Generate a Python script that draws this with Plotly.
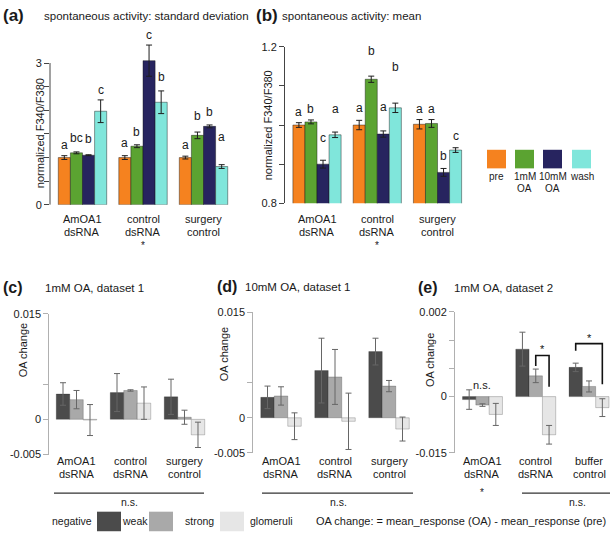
import plotly.graph_objects as go

W, H = 610, 548
FONT = "Liberation Sans, Arial, Helvetica, sans-serif"

# ---------------- data ----------------
groups_ab = ["AmOA1 dsRNA", "control dsRNA", "surgery control"]
conditions = ["pre", "1mM OA", "10mM OA", "wash"]

# (a) spontaneous activity: standard deviation
sd_pre = [1.00, 1.00, 1.00]
sd_pre_err = [0.04, 0.04, 0.03]
sd_1mM = [1.10, 1.24, 1.47]
sd_1mM_err = [0.02, 0.03, 0.07]
sd_10mM = [1.05, 3.05, 1.66]
sd_10mM_err = [0.01, 0.33, 0.03]
sd_wash = [1.98, 2.17, 0.81]
sd_wash_err = [0.24, 0.24, 0.04]
sd_letters = [["a", "bc", "b", "c"], ["a", "b", "c", "b"], ["a", "b", "b", "a"]]

# (b) spontaneous activity: mean
mn_pre = [1.000, 1.000, 1.002]
mn_pre_err = [0.006, 0.012, 0.012]
mn_1mM = [1.008, 1.117, 1.004]
mn_1mM_err = [0.005, 0.008, 0.010]
mn_10mM = [0.900, 0.977, 0.879]
mn_10mM_err = [0.010, 0.008, 0.010]
mn_wash = [0.975, 1.044, 0.936]
mn_wash_err = [0.007, 0.012, 0.006]
mn_letters = [["a", "b", "c", "a"], ["a", "b", "a", "b"], ["a", "a", "b", "c"]]

series_names = ["negative", "weak", "strong"]

# (c) 1mM OA, dataset 1
groups_c = ["AmOA1 dsRNA", "control dsRNA", "surgery control"]
c_neg = [0.0036, 0.0038, 0.0032]
c_neg_err = [0.0016, 0.0027, 0.0025]
c_weak = [0.0028, 0.0041, 0.0003]
c_weak_err = [0.0013, 0.0001, 0.0010]
c_strong = [-0.0001, 0.0023, -0.0022]
c_strong_err = [0.0022, 0.0023, 0.0018]

# (d) 10mM OA, dataset 1
groups_d = ["AmOA1 dsRNA", "control dsRNA", "surgery control"]
d_neg = [0.0029, 0.0067, 0.0094]
d_neg_err = [0.0016, 0.0046, 0.0019]
d_weak = [0.0031, 0.0058, 0.0045]
d_weak_err = [0.0013, 0.0039, 0.0008]
d_strong = [-0.0012, -0.0005, -0.0016]
d_strong_err = [0.0019, 0.0040, 0.0017]

# (e) 1mM OA, dataset 2
groups_e = ["AmOA1 dsRNA", "control dsRNA", "buffer control"]
e_neg = [-0.00007, 0.00112, 0.00069]
e_neg_err = [0.00023, 0.00040, 0.00010]
e_weak = [-0.00020, 0.00049, 0.00024]
e_weak_err = [0.00003, 0.00016, 0.00013]
e_strong = [-0.00042, -0.00090, -0.00026]
e_strong_err = [0.00026, 0.00022, 0.00021]

# ---------------- helpers ----------------
def X(p):
    return p / W


def Y(p):
    return 1 - p / H


col4 = ["#F5821F", "#5BA331", "#27245F", "#80E6DB"]
gray3 = ["#4b4b4b", "#a9a9a9", "#e6e6e6"]

fig = go.Figure()
annotations = []
shapes = []


def txt(x, y, s, size=11, xanchor="center", yanchor="middle", bold=False,
        xref="paper", yref="paper", color="#1a1a1a", angle=0):
    if xref == "paper":
        x = X(x)
    if yref == "paper":
        y = Y(y)
    annotations.append(dict(
        x=x, y=y, xref=xref, yref=yref, text=("<b>%s</b>" % s) if bold else s,
        showarrow=False, xanchor=xanchor, yanchor=yanchor, textangle=angle,
        font=dict(family=FONT, size=size, color=color)))


def add_bars(axn, groups, vals, errs, colors, width, err_color, line_color, lw):
    n = len(vals)
    for k in range(n):
        off = -width * n / 2 + k * width
        fig.add_trace(go.Bar(
            x=groups, y=vals[k], width=width, offset=off,
            marker=dict(color=colors[k], line=dict(color=line_color, width=lw)),
            error_y=dict(type="data", array=errs[k], color=err_color,
                         thickness=1, width=3),
            xaxis="x" + ("" if axn == 1 else str(axn)),
            yaxis="y" + ("" if axn == 1 else str(axn)),
            showlegend=False, hoverinfo="skip"))


add_bars(1, groups_ab, [sd_pre, sd_1mM, sd_10mM, sd_wash],
         [sd_pre_err, sd_1mM_err, sd_10mM_err, sd_wash_err], col4, 0.2,
         "#1e1e1e", "rgba(20,20,20,0.55)", 0.8)
add_bars(2, groups_ab, [mn_pre, mn_1mM, mn_10mM, mn_wash],
         [mn_pre_err, mn_1mM_err, mn_10mM_err, mn_wash_err], col4, 0.2,
         "#1e1e1e", "rgba(20,20,20,0.55)", 0.8)
add_bars(3, groups_c, [c_neg, c_weak, c_strong],
         [c_neg_err, c_weak_err, c_strong_err], gray3, 0.25,
         "#666666", "rgba(0,0,0,0.3)", 0.7)
add_bars(4, groups_d, [d_neg, d_weak, d_strong],
         [d_neg_err, d_weak_err, d_strong_err], gray3, 0.25,
         "#666666", "rgba(0,0,0,0.3)", 0.7)
add_bars(5, groups_e, [e_neg, e_weak, e_strong],
         [e_neg_err, e_weak_err, e_strong_err], gray3, 0.25,
         "#666666", "rgba(0,0,0,0.3)", 0.7)

# ---------------- axes ----------------
def xax(dom, rng):
    return dict(domain=[X(dom[0]), X(dom[1])], range=rng, type="category",
                showgrid=False, zeroline=False, showticklabels=False,
                ticks="", showline=False, fixedrange=True)


def yax(anchor, dom, rng, tv, tt, linecolor, showline=True):
    return dict(anchor=anchor, domain=[Y(dom[0]), Y(dom[1])], range=rng,
                showgrid=False, zeroline=False, tickvals=tv, ticktext=tt,
                ticks="outside", ticklen=5, tickcolor=linecolor, tickwidth=1,
                showline=showline, linecolor=linecolor, linewidth=1,
                tickfont=dict(family=FONT, size=11, color="#1a1a1a"),
                fixedrange=True)


layout_axes = dict(
    xaxis=dict(xax([50, 240], [-0.537, 2.603]), anchor="y"),
    yaxis=yax("x", [203.3, 29.3], [0, 3.6],
              [0, 0.5, 1, 1.5, 2, 2.5, 3], ["0", "", "", "", "", "", "3"],
              "#444444", showline=False),
    xaxis2=dict(xax([285, 475], [-0.531, 2.622]), anchor="y2"),
    yaxis2=yax("x2", [201.7, 41.7], [0.8, 1.2],
               [0.8, 0.9, 1.0, 1.1, 1.2], ["0.8", "", "", "", "1.2"], "#444444"),
    xaxis3=dict(xax([49.3, 215], [-0.504, 2.565]), anchor="y3"),
    yaxis3=yax("x3", [458.6, 314.6], [-0.005, 0.015],
               [-0.005, 0, 0.005, 0.015], ["-0.005", "0", "", "0.015"], "#b0b0b0"),
    xaxis4=dict(xax([253.3, 420], [-0.513, 2.574]), anchor="y4"),
    yaxis4=yax("x4", [457, 313], [-0.005, 0.015],
               [-0.005, 0, 0.005, 0.015], ["-0.005", "0", "", "0.015"], "#b0b0b0"),
    xaxis5=dict(xax([455, 610], [-0.516, 2.394]), anchor="y5"),
    yaxis5=yax("x5", [457, 312.7], [-0.00133, 0.002],
               [-0.00133, 0, 0.000667, 0.001333, 0.002],
               ["-0.015", "0", "", "", "0.002"], "#b0b0b0"),
)

# axis line of (a) only up to 3
shapes.append(dict(type="line", xref="x domain", yref="y", x0=0, x1=0, y0=0, y1=3,
                   line=dict(color="#444444", width=1)))

# ---------------- letters ----------------
# pixel lifts of the significance letters above the error-bar tops
LET_SHIFT = {
    1: [[2, 5, 7, 1], [4, 4, 1, 5], [2, 7, 4, 19]],
    2: [[2, 2, 13, 14], [3, 16, 15, 27], [2, 2, 3, 3]],
}


def letters(axn, lets, vals, errs):
    xr = "x" + ("" if axn == 1 else str(axn))
    yr = "y" + ("" if axn == 1 else str(axn))
    for g in range(3):
        for k in range(4):
            top = vals[k][g] + errs[k][g]
            annotations.append(dict(
                x=g + (k - 1.5) * 0.2, y=top, xref=xr, yref=yr, text=lets[g][k],
                showarrow=False, xanchor="center", yanchor="bottom",
                yshift=LET_SHIFT[axn][g][k],
                font=dict(family=FONT, size=12, color="#1a1a1a")))


letters(1, sd_letters, [sd_pre, sd_1mM, sd_10mM, sd_wash],
        [sd_pre_err, sd_1mM_err, sd_10mM_err, sd_wash_err])
letters(2, mn_letters, [mn_pre, mn_1mM, mn_10mM, mn_wash],
        [mn_pre_err, mn_1mM_err, mn_10mM_err, mn_wash_err])

# ---------------- titles ----------------
txt(1, 10, "(a)", size=17, xanchor="left", bold=True)
txt(42, 10, "spontaneous activity: standard deviation", size=11.5, xanchor="left")
txt(254, 10, "(b)", size=17, xanchor="left", bold=True)
txt(280, 10, "spontaneous activity: mean", size=11.5, xanchor="left")
txt(1, 288, "(c)", size=16, xanchor="left", bold=True)
txt(43, 288, "1mM OA, dataset 1", size=11.5, xanchor="left")
txt(215, 287, "(d)", size=16, xanchor="left", bold=True)
txt(243, 287, "10mM OA, dataset 1", size=11.5, xanchor="left")
txt(416, 288, "(e)", size=16, xanchor="left", bold=True)
txt(452, 288, "1mM OA, dataset 2", size=11.5, xanchor="left")

# y titles
txt(40, 130, "normalized F340/F380", size=11, angle=-90)
txt(268, 122, "normalized F340/F380", size=11, angle=-90)
txt(23, 352, "OA change", size=11, angle=-90)
txt(224, 356, "OA change", size=11, angle=-90)
txt(430, 362, "OA change", size=11, angle=-90)


def glabels(axn, groups, y1, y2):
    xr = "x" + ("" if axn == 1 else str(axn))
    for g, name in enumerate(groups):
        a, b = name.split(" ")
        txt(g, y1, a, xref=xr)
        txt(g, y2, b, xref=xr)


glabels(1, groups_ab, 218, 231)
glabels(2, groups_ab, 218, 231)
glabels(3, groups_c, 465, 478)
glabels(4, groups_d, 465, 478)
glabels(5, groups_e, 465, 478)

# stars under groups
txt(1, 245, "*", size=10, xref="x")
txt(1, 245, "*", size=10, xref="x2")
txt(0, 497, "*", size=10, xref="x5")

# n.s. lines
for x0, x1, xc in [(54, 204, 129), (262, 413, 338), (522, 610, 577)]:
    shapes.append(dict(type="line", xref="paper", yref="paper", x0=X(x0), x1=X(x1),
                       y0=Y(498), y1=Y(498), line=dict(color="#333333", width=1.3)))
    txt(xc, 507, "n.s.", size=10.5)

# (e) n.s. above AmOA1 and brackets
txt(0, 387, "n.s.", size=11, xref="x5")
for xa, xb, ytop, ya, yb, sx, sy in [
        (1.0, 1.25, 0.00097, 0.00072, 0.00023, 1.125, 0.00112),
        (1.75, 2.25, 0.00125, 0.00108, 0.00029, 2.0, 0.00139)]:
    shapes.append(dict(type="path", xref="x5", yref="y5",
                       path="M %s,%s L %s,%s L %s,%s L %s,%s" % (xa, ya, xa, ytop, xb, ytop, xb, yb),
                       line=dict(color="#111111", width=1.6)))
    annotations.append(dict(x=sx, y=sy, xref="x5", yref="y5", text="*", showarrow=False,
                            font=dict(family=FONT, size=11, color="#111111")))

# top-right legend
for i, (x0, lab) in enumerate(zip([487, 515, 543, 572], conditions)):
    shapes.append(dict(type="rect", xref="paper", yref="paper", x0=X(x0), x1=X(x0 + 19),
                       y0=Y(166), y1=Y(147), fillcolor=col4[i], line=dict(width=0)))
    parts = lab.split(" ")
    txt(x0 + 9.5, 174, parts[0], size=10)
    if len(parts) > 1:
        txt(x0 + 9.5, 187, parts[1], size=10)

# bottom legend
txt(94, 527, "negative", size=10.5, xanchor="right")
txt(135, 527, "weak", size=10.5)
txt(216, 527, "strong", size=10.5, xanchor="right")
txt(248, 527, "glomeruli", size=10.5, xanchor="left")
for i, x0 in enumerate([97, 149, 220]):
    shapes.append(dict(type="rect", xref="paper", yref="paper", x0=X(x0), x1=X(x0 + 24),
                       y0=Y(537), y1=Y(517), fillcolor=gray3[i], line=dict(width=0)))
txt(608, 527, "OA change: = mean_response (OA) - mean_response (pre)", size=11,
    xanchor="right")

fig.update_layout(
    width=W, height=H, margin=dict(l=0, r=0, t=0, b=0), autosize=False,
    paper_bgcolor="white", plot_bgcolor="white", barmode="group",
    font=dict(family=FONT, size=11, color="#1a1a1a"),
    annotations=annotations, shapes=shapes, showlegend=False,
    **layout_axes)

fig.write_html("out.html", config={"displayModeBar": False},
               post_script="document.body.style.margin='0px';document.body.style.overflow='hidden';")
